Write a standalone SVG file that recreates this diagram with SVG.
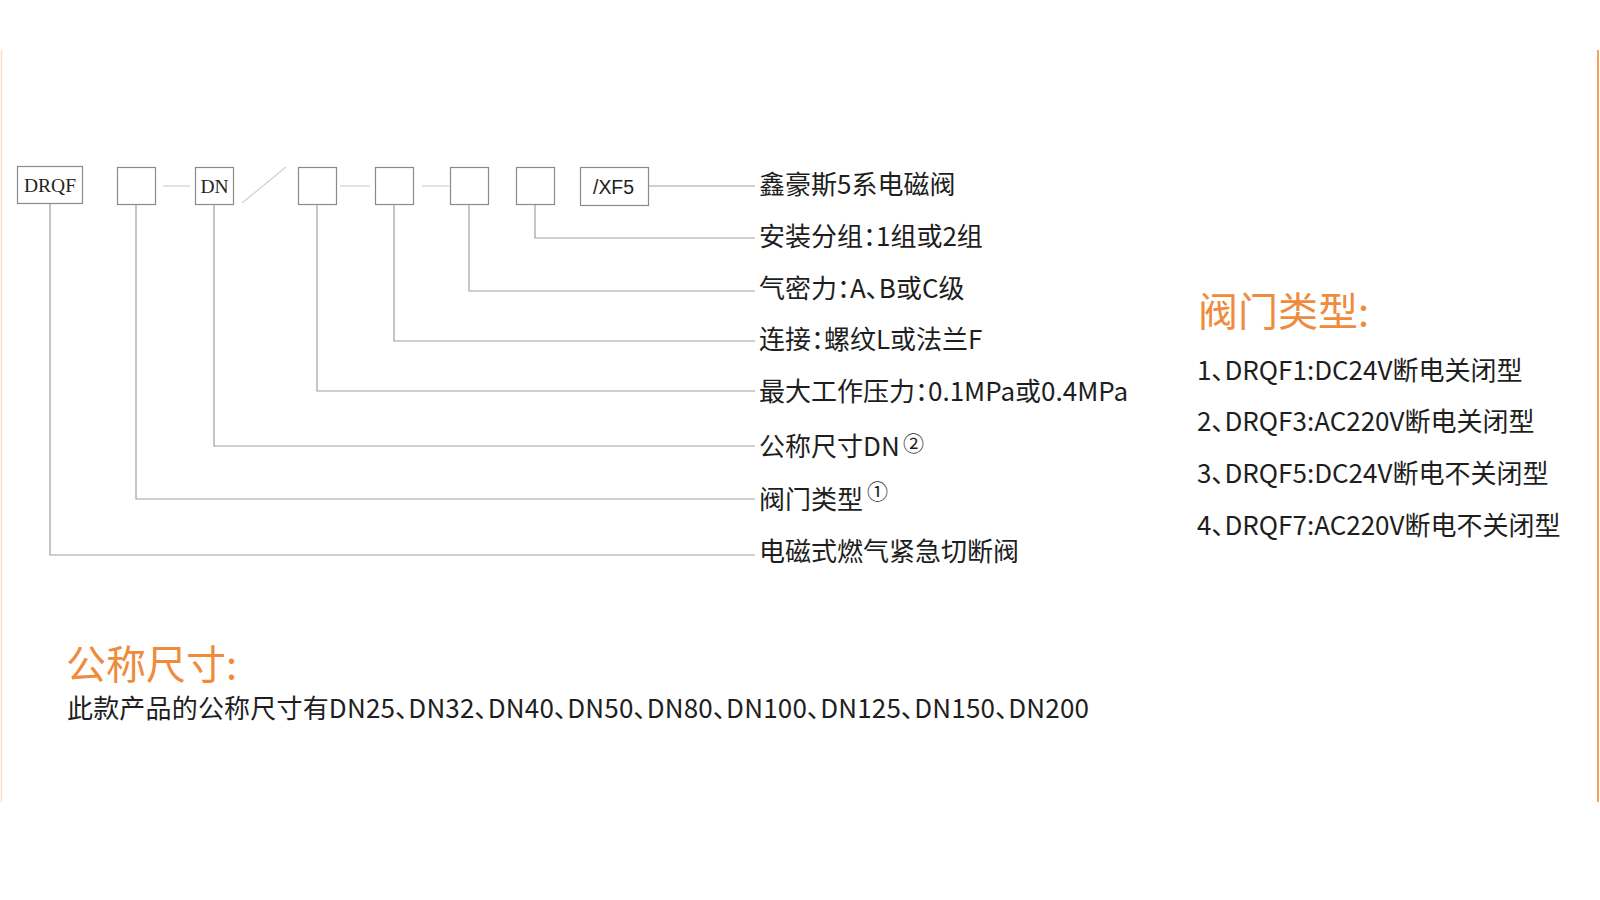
<svg xmlns="http://www.w3.org/2000/svg" width="1600" height="900" viewBox="0 0 1600 900">
<style>
.box{fill:#fff;stroke:#8a8a8a;stroke-width:1.2}
.ln{fill:none;stroke:#a0a0a0;stroke-width:1.2}
.dash{fill:none;stroke:#cfcfcf;stroke-width:1.2}
.serif{font-family:"Liberation Serif","Times New Roman",serif;font-size:19.5px;fill:#222;text-anchor:middle}
.narrow{font-family:"Liberation Sans",Arial,sans-serif;font-size:20px;fill:#222}
.lbl{font-family:"Noto Sans CJK SC","Noto Sans",sans-serif;font-size:26px;fill:#1e1e1e;font-feature-settings:"palt"}
.sup{font-family:"Noto Sans CJK SC","Noto Sans",sans-serif;font-size:21px;fill:#1e1e1e}
.head{font-family:"Noto Sans CJK SC","Noto Sans",sans-serif;font-size:40px;fill:#ef8b3c}
</style>
<rect width="1600" height="900" fill="#fff"/>
<line x1="1.5" y1="50" x2="1.5" y2="802" stroke="#f7dfca" stroke-width="1.5"/>
<line x1="1598" y1="50" x2="1598" y2="802" stroke="#f4a35b" stroke-width="2"/>

<g id="connectors">
  <line class="dash" x1="163" y1="186" x2="190" y2="186"/>
  <line class="dash" x1="242" y1="203" x2="286" y2="167"/>
  <line class="dash" x1="340" y1="186" x2="370" y2="186"/>
  <line class="dash" x1="422" y1="186" x2="449" y2="186"/>
  <polyline class="ln" points="648,186 755,186"/>
  <polyline class="ln" points="535,205 535,238 755,238"/>
  <polyline class="ln" points="469,205 469,291 755,291"/>
  <polyline class="ln" points="394,205 394,341 755,341"/>
  <polyline class="ln" points="317,205 317,391 755,391"/>
  <polyline class="ln" points="214,205 214,446 755,446"/>
  <polyline class="ln" points="136,205 136,499 755,499"/>
  <polyline class="ln" points="50,204 50,555 755,555"/>
</g>

<g id="node-drqf"><rect class="box" x="17.5" y="166.5" width="65" height="37"/><text class="serif" x="50" y="192">DRQF</text></g>
<g id="node-type"><rect class="box" x="117.5" y="167.5" width="38" height="37"/></g>
<g id="node-dn"><rect class="box" x="195.5" y="167.5" width="38" height="37"/><text class="serif" x="214.5" y="193">DN</text></g>
<g id="node-pressure"><rect class="box" x="298.5" y="167.5" width="38" height="37"/></g>
<g id="node-connect"><rect class="box" x="375.5" y="167.5" width="38" height="37"/></g>
<g id="node-tight"><rect class="box" x="450.5" y="167.5" width="38" height="37"/></g>
<g id="node-group"><rect class="box" x="516.5" y="167.5" width="38" height="37"/></g>
<g id="node-xf5"><rect class="box" x="580.5" y="167.5" width="68" height="38"/><text class="narrow" x="593" y="194" textLength="41" lengthAdjust="spacingAndGlyphs">/XF5</text></g>

<g id="labels">
  <text class="lbl" x="759" y="194">鑫豪斯5系电磁阀</text>
  <text class="lbl" x="759" y="246">安装分组：1组或2组</text>
  <text class="lbl" x="759" y="298">气密力：A、B或C级</text>
  <text class="lbl" x="759" y="349">连接：螺纹L或法兰F</text>
  <text class="lbl" x="759" y="401">最大工作压力：0.1MPa或0.4MPa</text>
  <text class="lbl" x="759" y="456">公称尺寸DN</text>
  <text class="sup" x="903" y="451">②</text>
  <text class="lbl" x="759" y="509">阀门类型</text>
  <text class="sup" x="867" y="499">①</text>
  <text class="lbl" x="759" y="561">电磁式燃气紧急切断阀</text>
</g>

<g id="valve-types">
  <text class="head" x="1198" y="326">阀门类型:</text>
  <text class="lbl" x="1197" y="380">1、DRQF1:DC24V断电关闭型</text>
  <text class="lbl" x="1197" y="431">2、DRQF3:AC220V断电关闭型</text>
  <text class="lbl" x="1197" y="483">3、DRQF5:DC24V断电不关闭型</text>
  <text class="lbl" x="1197" y="535">4、DRQF7:AC220V断电不关闭型</text>
</g>

<g id="nominal-size">
  <text class="head" x="66" y="679">公称尺寸:</text>
  <text class="lbl" x="67" y="718" textLength="1022" lengthAdjust="spacing">此款产品的公称尺寸有DN25、DN32、DN40、DN50、DN80、DN100、DN125、DN150、DN200</text>
</g>
</svg>
